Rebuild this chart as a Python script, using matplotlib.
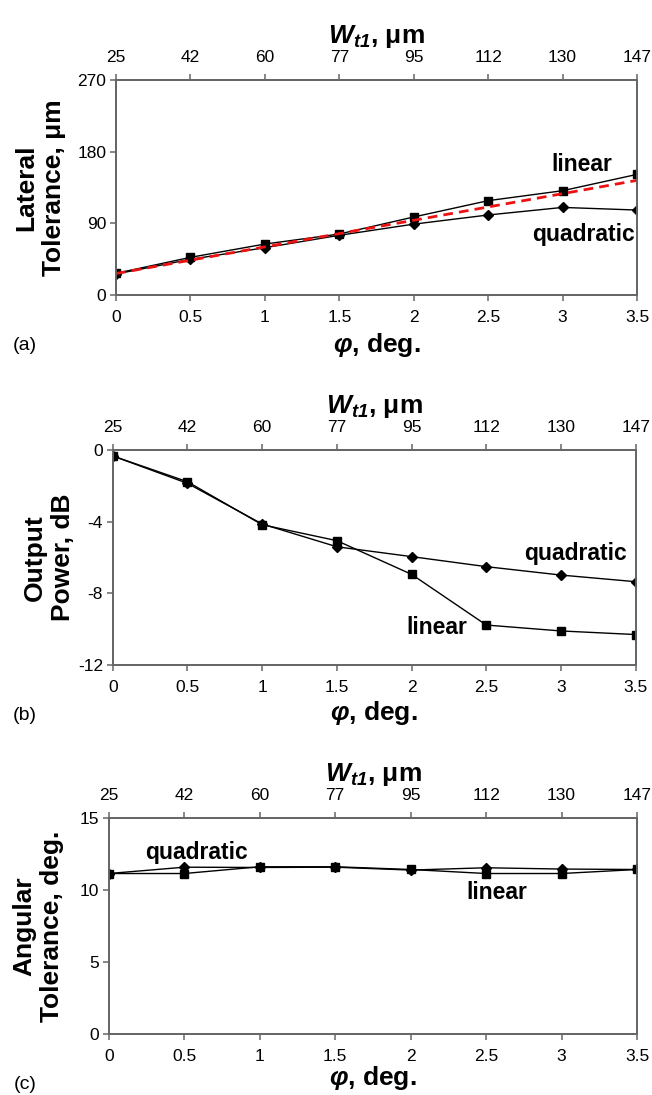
import matplotlib.pyplot as plt

plt.rcParams["font.family"] = ["Liberation Sans", "DejaVu Sans"]
plt.rcParams["axes.unicode_minus"] = False
plt.rcParams["mathtext.fontset"] = "custom"
plt.rcParams["mathtext.rm"] = "Liberation Sans"
plt.rcParams["mathtext.it"] = "Liberation Sans:italic"
plt.rcParams["mathtext.bf"] = "Liberation Sans:bold"
plt.rcParams["mathtext.bfit"] = "Liberation Sans:bold:italic"

# shared x values: tilt angle (bottom) and taper width (top)
phi = [0, 0.5, 1, 1.5, 2, 2.5, 3, 3.5]
w_t1 = [25, 42, 60, 77, 95, 112, 130, 147]

# (a) lateral tolerance, um
lat_linear = [27.2, 47.3, 64, 76.6, 98, 118.5, 131, 151.5]
lat_quadratic = [26.4, 44.8, 59.4, 75, 89, 100.5, 110, 106.7]
lat_fit_x = [0, 3.5]
lat_fit_y = [27, 144]

# (b) output power, dB
pow_linear = [-0.33, -1.77, -4.17, -5.06, -6.94, -9.77, -10.1, -10.3]
pow_quadratic = [-0.33, -1.86, -4.13, -5.4, -5.95, -6.51, -6.98, -7.35]

# (c) angular tolerance, deg.
ang_linear = [11.16, 11.16, 11.63, 11.63, 11.44, 11.16, 11.16, 11.44]
ang_quadratic = [11.16, 11.6, 11.58, 11.6, 11.4, 11.56, 11.47, 11.44]

SPINE = "#666666"
BOLD = 19


def style_axis(ax):
    for s in ax.spines.values():
        s.set_color(SPINE)
        s.set_linewidth(1.3)
    ax.tick_params(direction="out", length=4, width=1.1, color=SPINE,
                   labelsize=12.5, pad=7)


def draw_panel(rect, linear, quadratic, ylim, yticks, ylabel, ylab_x,
               tag, labels, xpad, fit=None):
    ax = fig.add_axes(rect)
    ax.plot(phi, quadratic, color="black", lw=1, marker="D", ms=5,
            zorder=3)
    ax.plot(phi, linear, color="black", lw=1, marker="s", ms=6, zorder=4)
    if fit is not None:
        ax.plot(fit[0], fit[1], color="#ee1111", lw=2, ls=(0, (3.5, 2.2)),
                zorder=5)
    ax.set_xlim(0, 3.5)
    ax.set_ylim(*ylim)
    ax.set_xticks(phi)
    ax.set_xticklabels([f"{p:g}" for p in phi])
    ax.set_yticks(yticks)
    style_axis(ax)
    ax.tick_params(axis="y", pad=3)
    ax.set_xlabel(r"$\mathbfit{\varphi}$, deg.", fontsize=BOLD,
                  fontweight="bold", labelpad=xpad)

    top = ax.twiny()
    top.set_xlim(0, 3.5)
    top.set_xticks(phi)
    top.set_xticklabels([str(w) for w in w_t1])
    style_axis(top)
    top.set_xlabel(r"$\mathbfit{W}_{\mathbfit{t1}}$, $\mathbf{\mu}$m",
                   fontsize=BOLD, fontweight="bold", labelpad=5)

    ax.text(ylab_x, 0.5, ylabel, transform=ax.transAxes, rotation=90,
            ha="center", va="center", multialignment="center",
            fontsize=BOLD, fontweight="bold", linespacing=1.2)
    for txt, x, y in labels:
        ax.text(x, y, txt, ha="center", va="center", fontsize=16.5,
                fontweight="bold")
    fig.text(0.038, ax.get_position().y0 - 0.046, tag, fontsize=14,
             ha="center", va="center")
    return ax


fig = plt.figure(figsize=(6.52, 10.95), dpi=100)

draw_panel([0.178, 0.7306, 0.799, 0.1963], lat_linear, lat_quadratic,
           (0, 270), [0, 90, 180, 270], "Lateral\nTolerance, μm", -0.146,
           "(a)", [("linear", 3.13, 164.5), ("quadratic", 3.14, 76.6)],
           xpad=4, fit=(lat_fit_x, lat_fit_y))

draw_panel([0.173, 0.3927, 0.802, 0.1963], pow_linear, pow_quadratic,
           (-12, 0), [-12, -8, -4, 0], "Output\nPower, dB", -0.122,
           "(b)", [("quadratic", 3.1, -5.8), ("linear", 2.17, -9.88)],
           xpad=3)

draw_panel([0.167, 0.0557, 0.810, 0.197], ang_linear, ang_quadratic,
           (0, 15), [0, 5, 10, 15], "Angular\nTolerance, deg.", -0.134,
           "(c)", [("quadratic", 0.58, 12.6), ("linear", 2.57, 9.86)],
           xpad=0)

fig.savefig("out.png", dpi=100)
